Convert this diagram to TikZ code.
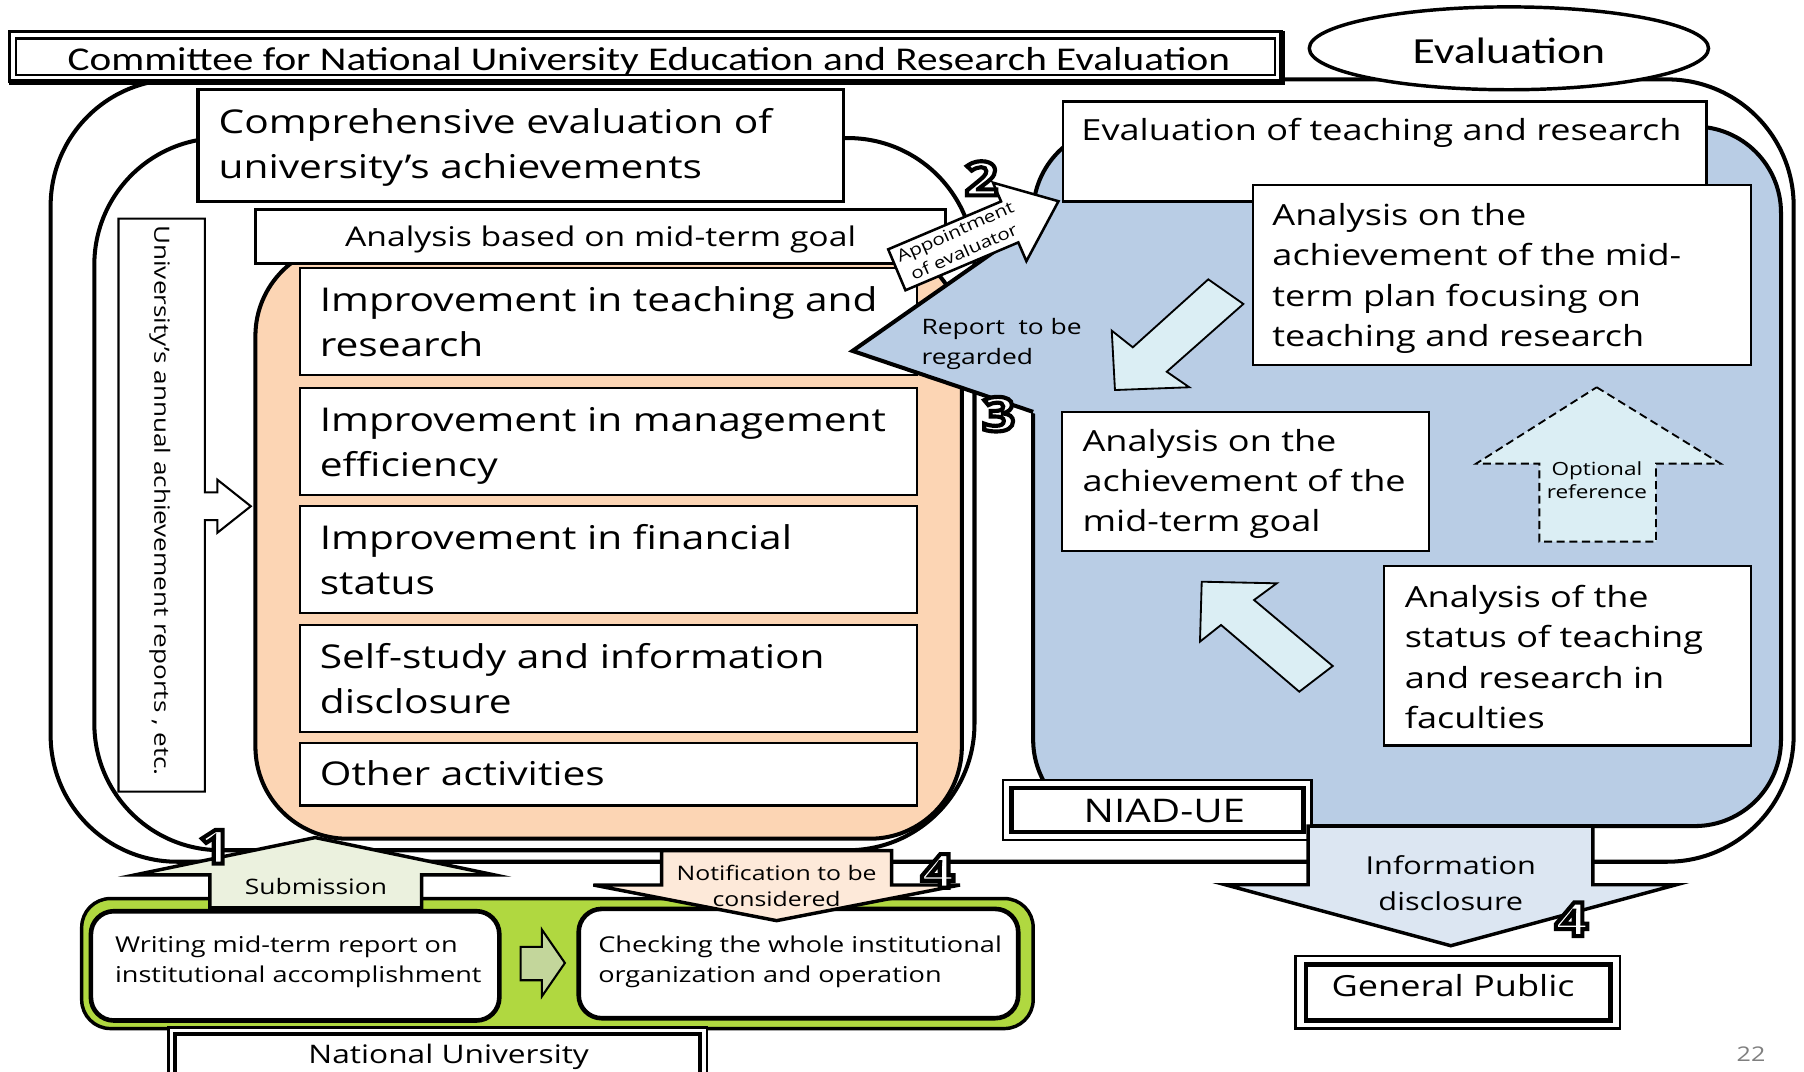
\documentclass[tikz,border=0pt]{standalone}
\usepackage{fontspec}
\setmainfont{Open Sans}[FakeStretch=1.24]
\newfontfamily\calfont{Carlito}[FakeStretch=1.24]
\usetikzlibrary{shapes.geometric}
\definecolor{peach}{HTML}{FCD5B4}
\definecolor{niadblue}{HTML}{B9CDE5}
\definecolor{paleblue}{HTML}{DBEEF4}
\definecolor{infoblue}{HTML}{DCE6F2}
\definecolor{nugreen}{HTML}{B0D840}
\definecolor{subgreen}{HTML}{EBF1DE}
\definecolor{arrgreen}{HTML}{C3D69B}
\definecolor{notpeach}{HTML}{FDE9D9}
\definecolor{pagegray}{HTML}{7F7F7F}
\newcommand\fsz[2]{\fontsize{#1}{#2}\selectfont}
\newcommand\outl[1]{\special{pdf:literal direct 2 Tr 3.6 w 0 G}#1\special{pdf:literal direct 0 Tr}}
\newcommand\odigit[3]{\node[digitstyle,text=white] (#1) at (#2) {\outl{#3}};}
\begin{document}
\begin{tikzpicture}[x=1pt,y=-1pt,line join=miter,
  txt/.style={inner sep=0pt,outer sep=0pt},
  bigshape/.style={draw=black,line width=3.5pt},
  wbox/.style={draw=black,fill=white,line width=2pt},
  lightarrow/.style={draw=black,fill=paleblue,line width=1.6pt},
  digitstyle/.style={inner sep=0pt,outer sep=0pt,font=\bfseries\fsz{41}{41}},
  big/.style={txt,font=\fsz{28.5}{34}},
  mid/.style={txt,font=\fsz{25.3}{30}},
  small/.style={txt,font=\fsz{19}{23}}]
\useasboundingbox (0,0) rectangle (1568,931);
\clip (0,0) rectangle (1568,931);
\fill[white] (0,0) rectangle (1568,931);

% outer committee region
\draw[bigshape,fill=white,rounded corners=110] (44,69) rectangle (1559,749);
% Evaluation ellipse
\draw[line width=3pt,fill=white] (1311.5,42) ellipse [x radius=173.5,y radius=36];
\node[txt,font=\calfont\fsz{32}{38},anchor=base] (evalell) at (1311.5,55) {Evaluation};
% committee box
\draw[line width=2.6pt,fill=white] (8,27) rectangle (1114,71);
\draw[line width=5.5pt] (8,71) -- (1114,71) -- (1114,27);
\draw[line width=2pt] (14,33.5) rectangle (1108,65);
\node[txt,font=\calfont\fsz{28.9}{35},anchor=base] (committee) at (564,61) {Committee for National University Education and Research Evaluation};

% inner comprehensive region
\draw[bigshape,fill=white,rounded corners=110] (82,120) rectangle (847,739);
% vertical box with arrow
\draw[line width=1.8pt,fill=white] (103,190) -- (178,190) -- (178,428) -- (189,428) -- (189,417) -- (218,440) -- (189,463) -- (189,452) -- (178,452) -- (178,688) -- (103,688) -- cycle;
\node[txt,rotate=-90,font=\fsz{18.3}{22}] (annual) at (139,435) {University’s annual achievement reports , etc.};
% peach region
\draw[bigshape,fill=peach,rounded corners=80] (222,212) rectangle (836,729);
% comprehensive box
\draw[line width=3pt,fill=white] (172,78) rectangle (733,175);
\node[big,anchor=base west] (compra) at (190,116) {Comprehensive evaluation of};
\node[big,anchor=base west] (comprb) at (190,155) {university’s achievements};
% analysis based
\draw[line width=2.4pt,fill=white] (222,182) rectangle (822,229);
\node[txt,font=\fsz{23.6}{28},anchor=base] (basedgoal) at (522,214) {Analysis based on mid-term goal};
% five boxes
\draw[wbox] (261,233) rectangle (797,326);
\node[big,anchor=base west] (impa1) at (278,271) {Improvement in teaching and};
\node[big,anchor=base west] (impa2) at (278,310) {research};
\draw[wbox] (261,337) rectangle (797,430);
\node[big,anchor=base west] (impb1) at (278,375) {Improvement in management};
\node[big,anchor=base west] (impb2) at (278,414) {efficiency};
\draw[wbox] (261,440) rectangle (797,533);
\node[big,anchor=base west] (impc1) at (278,478) {Improvement in financial};
\node[big,anchor=base west] (impc2) at (278,517) {status};
\draw[wbox] (261,543) rectangle (797,636);
\node[big,anchor=base west] (impd1) at (278,581) {Self-study and information};
\node[big,anchor=base west] (impd2) at (278,620) {disclosure};
\draw[wbox] (261,646) rectangle (797,700);
\node[big,anchor=base west] (impe1) at (278,683) {Other activities};

% blue NIAD region with report arrow
\draw[line width=3.5pt,fill=niadblue,rounded corners=75] (898,110) rectangle (1548,718);
\fill[niadblue] (901,192) -- (741,305) -- (901,360) -- cycle;
\draw[line width=3.5pt] (898,195) -- (741,305) -- (898,358);
\node[txt,font=\fsz{18.5}{22},anchor=base west] (report1) at (801,291) {Report\ \ to be};
\node[txt,font=\fsz{18.5}{22},anchor=base west] (report2) at (801,317) {regarded};

% evaluation of teaching box
\draw[line width=2.4pt,fill=white] (924,88) rectangle (1483,175);
\node[mid,anchor=base west] (evalteach) at (940,122) {Evaluation of teaching and research};
% analysis boxes
\draw[wbox] (1089,161) rectangle (1522,317);
\node[mid,anchor=base west] (plan1) at (1106,196) {Analysis on the};
\node[mid,anchor=base west] (plan2) at (1106,231) {achievement of the mid-};
\node[mid,anchor=base west] (plan3) at (1106,266) {term plan focusing on};
\node[mid,anchor=base west] (plan4) at (1106,301) {teaching and research};
\draw[wbox] (923,358) rectangle (1242,479);
\node[mid,anchor=base west] (goal1) at (941,392) {Analysis on the};
\node[mid,anchor=base west] (goal2) at (941,427) {achievement of the};
\node[mid,anchor=base west] (goal3) at (941,462) {mid-term goal};
\draw[wbox] (1203,492) rectangle (1522,648);
\node[mid,anchor=base west] (fac1) at (1221,528) {Analysis of the};
\node[mid,anchor=base west] (fac2) at (1221,563) {status of teaching};
\node[mid,anchor=base west] (fac3) at (1221,598) {and research in};
\node[mid,anchor=base west] (fac4) at (1221,633) {faculties};
% light arrows
\draw[lightarrow] (1050.2,242.8) -- (1080.7,264.2) -- (1014.1,323.1) -- (1033.7,336.6) -- (969.1,339.0) -- (966.3,287.4) -- (984.6,301.9) -- cycle;
\draw[lightarrow] (1044.5,505.6) -- (1109.7,507.0) -- (1090,521.5) -- (1158.4,578.9) -- (1129.3,601.2) -- (1061.3,543.2) -- (1043.0,557.7) -- cycle;
\draw[line width=1.6pt,dash pattern=on 7pt off 4pt,fill=paleblue] (1387.8,336.6) -- (1495.6,403) -- (1439.4,403) -- (1439.4,470.8) -- (1338,470.8) -- (1338,403) -- (1283,403) -- cycle;
\node[txt,font=\fsz{15.8}{19},anchor=base] (opt1) at (1388,413.7) {Optional};
\node[txt,font=\fsz{15.8}{19},anchor=base] (opt2) at (1388,433.2) {reference};

% appointment arrow
\draw[line width=2.2pt,fill=white] (772,216.7) -- (870.1,175.1) -- (863.1,158.8) -- (920,174.9) -- (892.1,227) -- (885.1,210.7) -- (787,252.3) -- cycle;
\node[txt,rotate=24,align=center,font=\fsz{14.4}{19}] (appt) at (834,210) {Appointment\\of evaluator};

% NIAD-UE
\draw[line width=2pt,fill=white] (872,678) rectangle (1140,730);
\draw[line width=4pt] (879,685) rectangle (1133,723);
\node[txt,font=\fsz{28.3}{33},anchor=base] (niad) at (1012,715) {NIAD-UE};
% information disclosure
\draw[line width=3pt,fill=infoblue] (1137,718) -- (1137,769) -- (1065,769) -- (1261,822) -- (1457,769) -- (1384.5,769) -- (1384.5,718) -- cycle;
\node[txt,font=\fsz{21.5}{26},anchor=base] (info1) at (1261,760) {Information};
\node[txt,font=\fsz{21.5}{26},anchor=base] (info2) at (1261,791) {disclosure};
% general public
\draw[line width=2.4pt,fill=white] (1126,831) rectangle (1408,894);
\draw[line width=4pt] (1135,838.5) rectangle (1400,887);
\node[txt,font=\fsz{25.3}{30},anchor=base] (public) at (1263,866) {General Public};

% national university region
\draw[line width=3pt,fill=nugreen,rounded corners=25] (71,781) rectangle (898,894);
\draw[line width=4pt,fill=white,rounded corners=20] (79,792) rectangle (434,887);
\draw[line width=4pt,fill=white,rounded corners=20] (503,790) rectangle (885,885);
\draw[line width=1.8pt,fill=arrgreen] (452.5,823) -- (471,823) -- (471,808) -- (491,837) -- (471,866) -- (471,852) -- (452.5,852) -- cycle;
\node[small,anchor=base west] (write1) at (100,828) {Writing mid-term report on};
\node[small,anchor=base west] (write2) at (100,854) {institutional accomplishment};
\node[small,anchor=base west] (check1) at (520,828) {Checking the whole institutional};
\node[small,anchor=base west] (check2) at (520,854) {organization and operation};
% submission arrow
\draw[line width=3pt,fill=subgreen] (274,728) -- (430,760.5) -- (366.5,760.5) -- (366.5,789) -- (182.5,789) -- (182.5,760.5) -- (117,760.5) -- cycle;
\node[txt,font=\fsz{18.5}{22},anchor=base] (submission) at (274.6,777.3) {Submission};
% notification arrow
\draw[line width=3pt,fill=notpeach] (575,739.4) -- (575,769.2) -- (515.7,769.2) -- (675,800.2) -- (834.4,769.2) -- (775,769.2) -- (775,739.4) -- cycle;
\node[txt,font=\fsz{17.4}{21},anchor=base] (notif1) at (675,765.5) {Notification to be};
\node[txt,font=\fsz{17.4}{21},anchor=base] (notif2) at (675,788) {considered};
% national university box
\draw[line width=2.4pt,fill=white] (146.4,893.2) rectangle (614.6,960);
\draw[line width=3.5pt] (152.4,898.5) rectangle (608.5,955);
\node[txt,font=\fsz{22.2}{26},anchor=base] (natuniv) at (390,924) {National University};

% step numbers
\odigit{done}{187,736}{1}
\odigit{dtwo}{853,155}{2}
\odigit{dthree}{868,360}{3}
\odigit{dfoura}{815,757}{4}
\odigit{dfourb}{1366,799}{4}
% page number
\node[txt,text=pagegray,font=\fsz{17.6}{21}] (pagenum) at (1522,916) {22};
\end{tikzpicture}
\end{document}
